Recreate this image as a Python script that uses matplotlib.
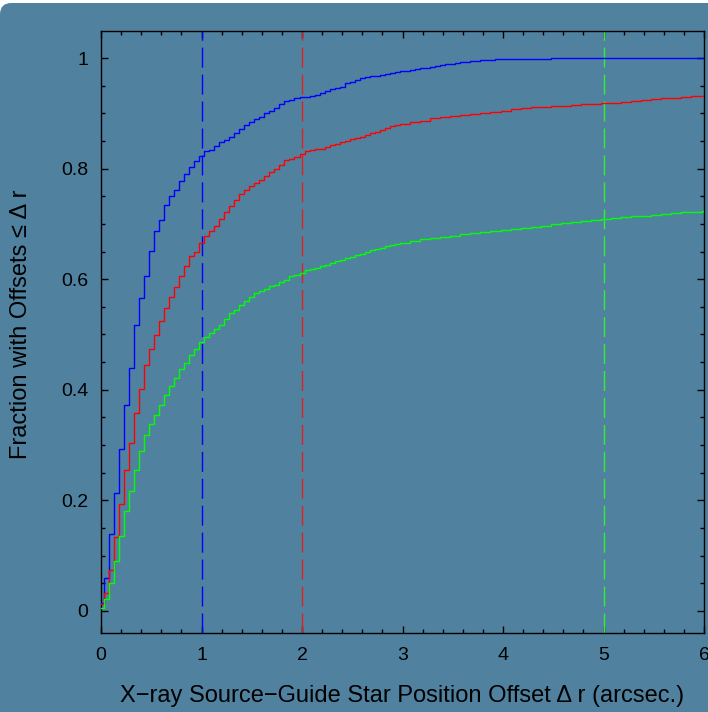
import numpy as np
import matplotlib.pyplot as plt
from matplotlib.patches import FancyBboxPatch
from matplotlib.ticker import MultipleLocator, FuncFormatter

# 見た目の設定
plt.rcParams['font.family'] = ['Liberation Sans', 'DejaVu Sans']
plt.rcParams['xtick.direction'] = 'in'
plt.rcParams['ytick.direction'] = 'in'
plt.rcParams['xtick.top'] = True
plt.rcParams['ytick.right'] = True
plt.rcParams['axes.linewidth'] = 1.0

BG = '#5082a0'

# 累積分布 (ステップの始まりの位置と値)
blue_x = [0.000, 0.025, 0.075, 0.125, 0.175, 0.225, 0.275, 0.325, 0.375, 0.425,
          0.475, 0.525, 0.575, 0.625, 0.675, 0.725, 0.775, 0.825, 0.875, 0.925,
          0.975, 1.025, 1.075, 1.125, 1.175, 1.225, 1.275, 1.325, 1.375, 1.425,
          1.475, 1.525, 1.575, 1.625, 1.675, 1.725, 1.775, 1.825, 1.875, 1.925,
          1.975, 2.025, 2.075, 2.125, 2.175, 2.225, 2.275, 2.325, 2.375, 2.425,
          2.475, 2.525, 2.575, 2.625, 2.675, 2.725, 2.775, 2.825, 2.875, 2.925,
          2.975, 3.025, 3.075, 3.125, 3.175, 3.275, 3.325, 3.375, 3.425, 3.475,
          3.525, 3.575, 3.625, 3.675, 3.725, 3.775, 3.875, 3.925, 3.975, 4.475]
blue_y = [0.015, 0.060, 0.139, 0.214, 0.293, 0.372, 0.440, 0.518, 0.566, 0.606,
          0.651, 0.688, 0.707, 0.735, 0.751, 0.761, 0.778, 0.790, 0.803, 0.814,
          0.822, 0.831, 0.834, 0.841, 0.848, 0.851, 0.857, 0.864, 0.871, 0.879,
          0.885, 0.890, 0.894, 0.900, 0.904, 0.910, 0.916, 0.922, 0.925, 0.927,
          0.929, 0.930, 0.931, 0.934, 0.936, 0.940, 0.944, 0.946, 0.947, 0.954,
          0.957, 0.961, 0.964, 0.965, 0.967, 0.968, 0.970, 0.972, 0.973, 0.975,
          0.976, 0.977, 0.979, 0.980, 0.982, 0.983, 0.986, 0.987, 0.989, 0.990,
          0.991, 0.992, 0.993, 0.994, 0.995, 0.996, 0.997, 0.998, 0.999, 1.000]

rg_x = [0.000, 0.025, 0.075, 0.125, 0.175, 0.225, 0.275, 0.325, 0.375, 0.425,
        0.475, 0.525, 0.575, 0.625, 0.675, 0.725, 0.775, 0.825, 0.875, 0.925,
        0.975, 1.025, 1.075, 1.125, 1.175, 1.225, 1.275, 1.325, 1.375, 1.425,
        1.475, 1.525, 1.575, 1.625, 1.675, 1.725, 1.775, 1.825, 1.875, 1.925,
        1.975, 2.025, 2.075, 2.125, 2.175, 2.225, 2.275, 2.325, 2.375, 2.425,
        2.475, 2.525, 2.575, 2.625, 2.675, 2.725, 2.775, 2.825, 2.875, 2.925,
        2.975, 3.075, 3.175, 3.275, 3.375, 3.475, 3.575, 3.675, 3.775, 3.875,
        3.975, 4.075, 4.175, 4.275, 4.375, 4.475, 4.575, 4.675, 4.775, 4.875,
        4.975, 5.075, 5.175, 5.275, 5.375, 5.475, 5.575, 5.675, 5.775, 5.875,
        5.975]
red_y = [0.013, 0.032, 0.074, 0.134, 0.194, 0.255, 0.303, 0.358, 0.402, 0.444,
         0.474, 0.499, 0.524, 0.547, 0.567, 0.585, 0.606, 0.624, 0.642, 0.650,
         0.665, 0.678, 0.688, 0.696, 0.708, 0.721, 0.733, 0.743, 0.754, 0.762,
         0.769, 0.774, 0.780, 0.787, 0.794, 0.799, 0.806, 0.815, 0.818, 0.821,
         0.826, 0.831, 0.834, 0.835, 0.836, 0.839, 0.842, 0.844, 0.848, 0.850,
         0.853, 0.856, 0.858, 0.861, 0.864, 0.866, 0.869, 0.873, 0.877, 0.879,
         0.880, 0.884, 0.887, 0.891, 0.893, 0.895, 0.897, 0.899, 0.901, 0.903,
         0.905, 0.907, 0.909, 0.911, 0.912, 0.913, 0.914, 0.915, 0.916, 0.917,
         0.918, 0.919, 0.921, 0.922, 0.924, 0.926, 0.927, 0.928, 0.930, 0.931,
         0.932]
green_y = [0.006, 0.021, 0.050, 0.091, 0.136, 0.180, 0.216, 0.254, 0.289, 0.319,
           0.338, 0.355, 0.373, 0.391, 0.406, 0.421, 0.437, 0.449, 0.463, 0.473,
           0.486, 0.495, 0.503, 0.509, 0.518, 0.528, 0.538, 0.545, 0.554, 0.560,
           0.568, 0.575, 0.578, 0.582, 0.588, 0.590, 0.594, 0.599, 0.605, 0.608,
           0.612, 0.616, 0.619, 0.621, 0.624, 0.626, 0.629, 0.632, 0.635, 0.638,
           0.640, 0.643, 0.646, 0.649, 0.652, 0.655, 0.657, 0.660, 0.662, 0.664,
           0.666, 0.669, 0.672, 0.675, 0.677, 0.679, 0.682, 0.684, 0.686, 0.687,
           0.689, 0.691, 0.693, 0.695, 0.697, 0.699, 0.701, 0.703, 0.705, 0.707,
           0.709, 0.711, 0.712, 0.714, 0.715, 0.717, 0.718, 0.720, 0.721, 0.722,
           0.723]

# 縦の破線 (位置と色)
cut_x = [1, 2, 5]
cut_colors = ['#0000ff', '#e02020', '#33ee33']

XMAX = 6.0


def draw_step(ax, x, y, color):
    xs = list(x) + [XMAX]
    ys = list(y) + [y[-1]]
    ax.step(xs, ys, where='post', color=color, lw=1.0, zorder=3)


fig = plt.figure(figsize=(7.08, 7.12), dpi=100)
fig.patch.set_facecolor('white')
# 左上だけ角が丸いカード状の背景
card = FancyBboxPatch((0.0, -1.0), 2.0, 1.9958, boxstyle='round,pad=0,rounding_size=0.016',
                      transform=fig.transFigure, facecolor=BG, edgecolor='none',
                      zorder=-5, clip_on=False)
fig.add_artist(card)

ax = fig.add_axes([0.1427, 0.111, 0.8517, 0.8455])
ax.set_facecolor(BG)
ax.set_zorder(1)

for cx, cc in zip(cut_x, cut_colors):
    ax.axvline(cx, color=cc, lw=1.0, ls=(0, (14.4, 5.0)), zorder=2)

draw_step(ax, blue_x, blue_y, '#0000ff')
draw_step(ax, rg_x, red_y, '#ff0000')
draw_step(ax, rg_x, green_y, '#00ff00')

ax.set_xlim(0, XMAX)
ax.set_ylim(-0.04, 1.049)

ax.xaxis.set_major_locator(MultipleLocator(1))
ax.xaxis.set_minor_locator(MultipleLocator(0.2))
ax.yaxis.set_major_locator(MultipleLocator(0.2))
ax.yaxis.set_minor_locator(MultipleLocator(0.05))
fmt = FuncFormatter(lambda v, p: '%g' % round(v, 2))
ax.xaxis.set_major_formatter(fmt)
ax.yaxis.set_major_formatter(fmt)

ax.tick_params(which='major', length=5, width=1.0, labelsize=14, color='black')
ax.tick_params(which='minor', length=3, width=1.0, color='black')
ax.tick_params(axis='x', which='major', pad=10)
ax.tick_params(axis='y', which='major', pad=9)

ax.set_xlabel('X\u2212ray Source\u2212Guide Star Position Offset \u0394 r (arcsec.)', fontsize=17)
ax.set_ylabel('Fraction with Offsets \u2264 \u0394 r', fontsize=17)
ax.xaxis.set_label_coords(0.5, -0.086)
ax.yaxis.set_label_coords(-0.114, 0.512)

fig.savefig('out.png', dpi=100, facecolor=fig.get_facecolor())
